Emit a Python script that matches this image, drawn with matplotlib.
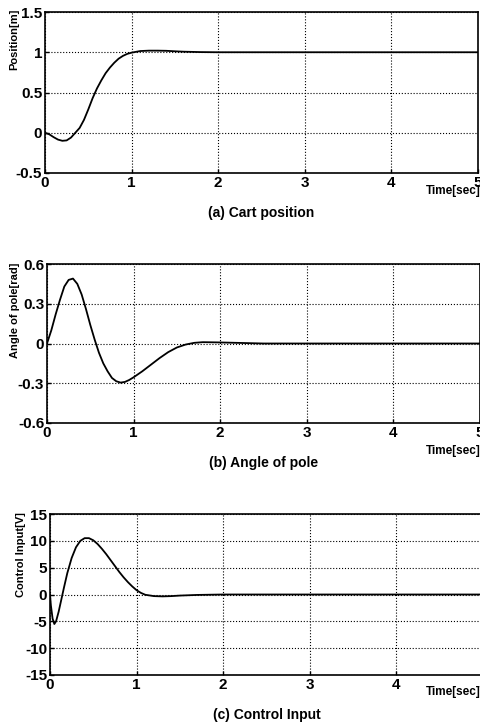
import matplotlib.pyplot as plt

plt.rcParams["font.family"] = ["Liberation Sans", "DejaVu Sans"]
plt.rcParams["font.weight"] = "bold"

# (a) cart position
t_pos = [0, 0.05, 0.1, 0.15, 0.2, 0.25, 0.3, 0.35, 0.4, 0.45, 0.5, 0.55, 0.6, 0.65,
         0.7, 0.75, 0.8, 0.85, 0.9, 0.95, 1.0, 1.05, 1.1, 1.2, 1.3, 1.4, 1.5, 1.6,
         1.8, 2.0, 3.0, 4.0, 5.0]
pos = [0, -0.02, -0.055, -0.085, -0.1, -0.095, -0.06, 0.0, 0.06, 0.16, 0.29, 0.43,
       0.55, 0.65, 0.74, 0.81, 0.87, 0.92, 0.955, 0.98, 0.995, 1.005, 1.015, 1.02,
       1.02, 1.018, 1.012, 1.007, 1.002, 1.0, 1.0, 1.0, 1.0]

# (b) angle of pole
t_ang = [0, 0.05, 0.1, 0.15, 0.2, 0.25, 0.3, 0.35, 0.4, 0.45, 0.5, 0.55, 0.6, 0.65,
         0.7, 0.75, 0.8, 0.85, 0.9, 0.95, 1.0, 1.1, 1.2, 1.3, 1.4, 1.5, 1.6, 1.7,
         1.8, 2.0, 2.5, 5.0]
ang = [0, 0.1, 0.22, 0.33, 0.43, 0.48, 0.49, 0.45, 0.37, 0.26, 0.14, 0.03, -0.07,
       -0.15, -0.21, -0.26, -0.285, -0.295, -0.29, -0.275, -0.255, -0.21, -0.16,
       -0.11, -0.065, -0.03, -0.008, 0.005, 0.01, 0.008, 0.0, 0.0]

# (c) control input
t_u = [0, 0.01, 0.03, 0.05, 0.07, 0.1, 0.13, 0.16, 0.2, 0.25, 0.3, 0.35, 0.4, 0.45,
       0.5, 0.55, 0.6, 0.65, 0.7, 0.75, 0.8, 0.85, 0.9, 0.95, 1.0, 1.05, 1.1, 1.2,
       1.3, 1.4, 1.5, 1.7, 2.0, 5.0]
u = [0, -2.0, -4.5, -5.5, -5.0, -3.2, -1.0, 1.2, 4.0, 6.8, 8.8, 10.0, 10.5, 10.5,
     10.1, 9.4, 8.5, 7.5, 6.4, 5.3, 4.2, 3.2, 2.3, 1.5, 0.8, 0.3, -0.05, -0.3,
     -0.35, -0.3, -0.2, -0.08, 0.0, 0.0]

panels = [
    (t_pos, pos, [-0.5, 0, 0.5, 1, 1.5], ["-0.5", "0", "0.5", "1", "1.5"],
     "Position[m]", "(a) Cart position", [45, 12, 478, 173], 14, 0.83, 191),
    (t_ang, ang, [-0.6, -0.3, 0, 0.3, 0.6], ["-0.6", "-0.3", "0", "0.3", "0.6"],
     "Angle of pole[rad]", "(b) Angle of pole", [47, 264, 480, 423], 15, 0.71, 451),
    (t_u, u, [-15, -10, -5, 0, 5, 10, 15], ["-15", "-10", "-5", "0", "5", "10", "15"],
     "Control Input[V]", "(c) Control Input", [50, 514, 483, 675], 21, 0.745, 692),
]

W, H = 481, 724
fig = plt.figure(figsize=(W / 100, H / 100), dpi=100)

for t, y, yt, ytl, ylab, cap, (x0, y0, x1, y1), lx, ly, ty in panels:
    ax = fig.add_axes([x0 / W, 1 - y1 / H, (x1 - x0) / W, (y1 - y0) / H])
    ax.plot(t, y, color="black", lw=1.3)
    ax.set_xlim(0, 5)
    ax.set_ylim(yt[0], yt[-1])
    ax.set_xticks([0, 1, 2, 3, 4, 5])
    ax.set_xticklabels(["0", "1", "2", "3", "4", "5"], fontsize=11, fontweight="bold")
    ax.set_yticks(yt)
    ax.set_yticklabels(ytl, fontsize=11, fontweight="bold")
    ax.tick_params(direction="in", length=3, width=1, pad=2)
    ax.grid(True, color="black", linestyle=":", linewidth=0.8)
    for s in ax.spines.values():
        s.set_linewidth(1.2)
    ax.set_ylabel(ylab, fontsize=8, fontweight="bold")
    ax.yaxis.label.set_verticalalignment("center")
    ax.yaxis.set_label_coords(-(x0 - lx) / (x1 - x0), ly)
    fig.text(453 / W, 1 - ty / H, "Time[sec]", fontsize=8.5,
             fontweight="bold", ha="center", va="center")
    ax.text(0.5, -0.25, cap, transform=ax.transAxes, fontsize=10,
            fontweight="bold", ha="center", va="center")

fig.savefig("out.png", dpi=100)
